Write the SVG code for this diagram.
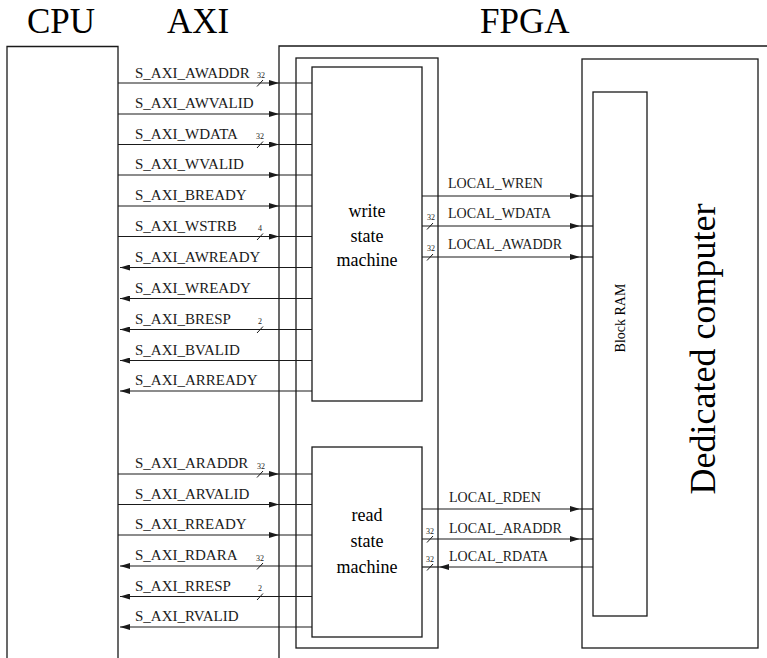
<svg xmlns="http://www.w3.org/2000/svg" width="767" height="658" viewBox="0 0 767 658">
<defs>
<style>
.box{fill:none;stroke:#1a1a1a;stroke-width:1.3}
.ln{fill:none;stroke:#1a1a1a;stroke-width:1.2}
.sl{fill:none;stroke:#1a1a1a;stroke-width:1}
.hd{font-size:35px;fill:#000}
.sg{font-size:15px;fill:#1a1a1a}
.lc{font-size:14px;fill:#1a1a1a}
.bw{font-size:8px;fill:#1a1a1a;text-anchor:middle}
.sm{font-size:18px;fill:#000;text-anchor:middle}
</style>
<marker id="ah" viewBox="0 0 10 6" refX="10" refY="3" markerWidth="10" markerHeight="6" markerUnits="userSpaceOnUse" orient="auto">
<path d="M0,0 L10,3 L0,6 Z" fill="#1a1a1a"/>
</marker>
</defs>
<rect width="767" height="658" fill="#fff"/>

<g font-family="'Liberation Serif', 'Times New Roman', serif">
<g id="headers">
<text class="hd" x="27" y="33">CPU</text>
<text class="hd" x="167" y="33">AXI</text>
<text class="hd" x="480" y="33">FPGA</text>
</g>

<g id="cpu"><path class="box" d="M7,665 V46.5 H118 V665"/></g>
<g id="fpga"><path class="box" d="M279,665 V46 H770"/></g>
<g id="axi-interface"><rect class="box" x="296" y="58" width="142" height="590"/></g>
<g id="write-sm">
<rect class="box" x="312" y="67" width="110" height="334"/>
<text class="sm" x="367" y="217">write</text>
<text class="sm" x="367" y="242">state</text>
<text class="sm" x="367" y="266">machine</text>
</g>
<g id="read-sm">
<rect class="box" x="312" y="447" width="110" height="190"/>
<text class="sm" x="367" y="521">read</text>
<text class="sm" x="367" y="547">state</text>
<text class="sm" x="367" y="573">machine</text>
</g>
<g id="dedicated">
<rect class="box" x="582" y="59" width="176" height="589"/>
<text font-size="36" text-anchor="middle" transform="translate(715,349) rotate(-90)">Dedicated computer</text>
</g>
<g id="block-ram">
<rect class="box" x="593" y="92" width="54" height="524"/>
<text font-size="14" text-anchor="middle" transform="translate(625,318) rotate(-90)">Block RAM</text>
</g>

<g id="connectors">
<line class="ln" x1="118" y1="83" x2="279" y2="83" marker-end="url(#ah)"/><line class="ln" x1="279" y1="83" x2="312" y2="83"/>
<line class="ln" x1="118" y1="114" x2="279" y2="114" marker-end="url(#ah)"/><line class="ln" x1="279" y1="114" x2="312" y2="114"/>
<line class="ln" x1="118" y1="144.5" x2="279" y2="144.5" marker-end="url(#ah)"/><line class="ln" x1="279" y1="144.5" x2="312" y2="144.5"/>
<line class="ln" x1="118" y1="175" x2="279" y2="175" marker-end="url(#ah)"/><line class="ln" x1="279" y1="175" x2="312" y2="175"/>
<line class="ln" x1="118" y1="206" x2="279" y2="206" marker-end="url(#ah)"/><line class="ln" x1="279" y1="206" x2="312" y2="206"/>
<line class="ln" x1="118" y1="236.5" x2="279" y2="236.5" marker-end="url(#ah)"/><line class="ln" x1="279" y1="236.5" x2="312" y2="236.5"/>
<line class="ln" x1="312" y1="267.5" x2="120" y2="267.5" marker-end="url(#ah)"/>
<line class="ln" x1="312" y1="298.5" x2="120" y2="298.5" marker-end="url(#ah)"/>
<line class="ln" x1="312" y1="329.5" x2="120" y2="329.5" marker-end="url(#ah)"/>
<line class="ln" x1="312" y1="360.5" x2="120" y2="360.5" marker-end="url(#ah)"/>
<line class="ln" x1="312" y1="391" x2="120" y2="391" marker-end="url(#ah)"/>
<line class="ln" x1="118" y1="474" x2="279" y2="474" marker-end="url(#ah)"/><line class="ln" x1="279" y1="474" x2="312" y2="474"/>
<line class="ln" x1="118" y1="504.5" x2="279" y2="504.5" marker-end="url(#ah)"/><line class="ln" x1="279" y1="504.5" x2="312" y2="504.5"/>
<line class="ln" x1="118" y1="535" x2="279" y2="535" marker-end="url(#ah)"/><line class="ln" x1="279" y1="535" x2="312" y2="535"/>
<line class="ln" x1="312" y1="566" x2="120" y2="566" marker-end="url(#ah)"/>
<line class="ln" x1="312" y1="596.5" x2="120" y2="596.5" marker-end="url(#ah)"/>
<line class="ln" x1="312" y1="627" x2="120" y2="627" marker-end="url(#ah)"/>
<line class="ln" x1="422" y1="196" x2="580" y2="196" marker-end="url(#ah)"/><line class="ln" x1="580" y1="196" x2="593" y2="196"/>
<line class="ln" x1="422" y1="226" x2="580" y2="226" marker-end="url(#ah)"/><line class="ln" x1="580" y1="226" x2="593" y2="226"/>
<line class="ln" x1="422" y1="257" x2="580" y2="257" marker-end="url(#ah)"/><line class="ln" x1="580" y1="257" x2="593" y2="257"/>
<line class="ln" x1="422" y1="509" x2="580" y2="509" marker-end="url(#ah)"/><line class="ln" x1="580" y1="509" x2="593" y2="509"/>
<line class="ln" x1="422" y1="539" x2="580" y2="539" marker-end="url(#ah)"/><line class="ln" x1="580" y1="539" x2="593" y2="539"/>
<line class="ln" x1="593" y1="567" x2="439" y2="567" marker-end="url(#ah)"/><line class="ln" x1="439" y1="567" x2="422" y2="567"/>
<line class="sl" x1="257" y1="86.5" x2="263" y2="80"/>
<line class="sl" x1="257" y1="148" x2="263" y2="141.5"/>
<line class="sl" x1="257" y1="240" x2="263" y2="233.5"/>
<line class="sl" x1="257" y1="333" x2="263" y2="326.5"/>
<line class="sl" x1="257" y1="477.5" x2="263" y2="471"/>
<line class="sl" x1="257" y1="569.5" x2="263" y2="563"/>
<line class="sl" x1="257" y1="600" x2="263" y2="593.5"/>
<line class="sl" x1="427" y1="229.5" x2="433" y2="223"/>
<line class="sl" x1="427" y1="260.5" x2="433" y2="254"/>
<line class="sl" x1="427" y1="542.5" x2="433" y2="536"/>
<line class="sl" x1="427" y1="570.5" x2="433" y2="564"/>
</g>

<g id="labels">
<text class="sg" x="135" y="78">S_AXI_AWADDR</text>
<text class="sg" x="135" y="108">S_AXI_AWVALID</text>
<text class="sg" x="135" y="138.5">S_AXI_WDATA</text>
<text class="sg" x="135" y="169">S_AXI_WVALID</text>
<text class="sg" x="135" y="200">S_AXI_BREADY</text>
<text class="sg" x="135" y="230.5">S_AXI_WSTRB</text>
<text class="sg" x="135" y="261.5">S_AXI_AWREADY</text>
<text class="sg" x="135" y="292.5">S_AXI_WREADY</text>
<text class="sg" x="135" y="323.5">S_AXI_BRESP</text>
<text class="sg" x="135" y="354.5">S_AXI_BVALID</text>
<text class="sg" x="135" y="385">S_AXI_ARREADY</text>
<text class="sg" x="135" y="468">S_AXI_ARADDR</text>
<text class="sg" x="135" y="498.5">S_AXI_ARVALID</text>
<text class="sg" x="135" y="529">S_AXI_RREADY</text>
<text class="sg" x="135" y="560">S_AXI_RDARA</text>
<text class="sg" x="135" y="590.5">S_AXI_RRESP</text>
<text class="sg" x="135" y="621">S_AXI_RVALID</text>
<text class="lc" x="448" y="188">LOCAL_WREN</text>
<text class="lc" x="448" y="218">LOCAL_WDATA</text>
<text class="lc" x="448" y="249">LOCAL_AWADDR</text>
<text class="lc" x="449" y="502">LOCAL_RDEN</text>
<text class="lc" x="449" y="533">LOCAL_ARADDR</text>
<text class="lc" x="449" y="561">LOCAL_RDATA</text>
<text class="bw" x="261" y="78">32</text>
<text class="bw" x="260" y="139">32</text>
<text class="bw" x="260" y="231">4</text>
<text class="bw" x="260" y="324">2</text>
<text class="bw" x="261" y="469">32</text>
<text class="bw" x="260" y="561">32</text>
<text class="bw" x="260" y="591">2</text>
<text class="bw" x="431" y="220">32</text>
<text class="bw" x="431" y="251">32</text>
<text class="bw" x="430" y="534">32</text>
<text class="bw" x="430" y="562">32</text>
</g>
</g>
</svg>
